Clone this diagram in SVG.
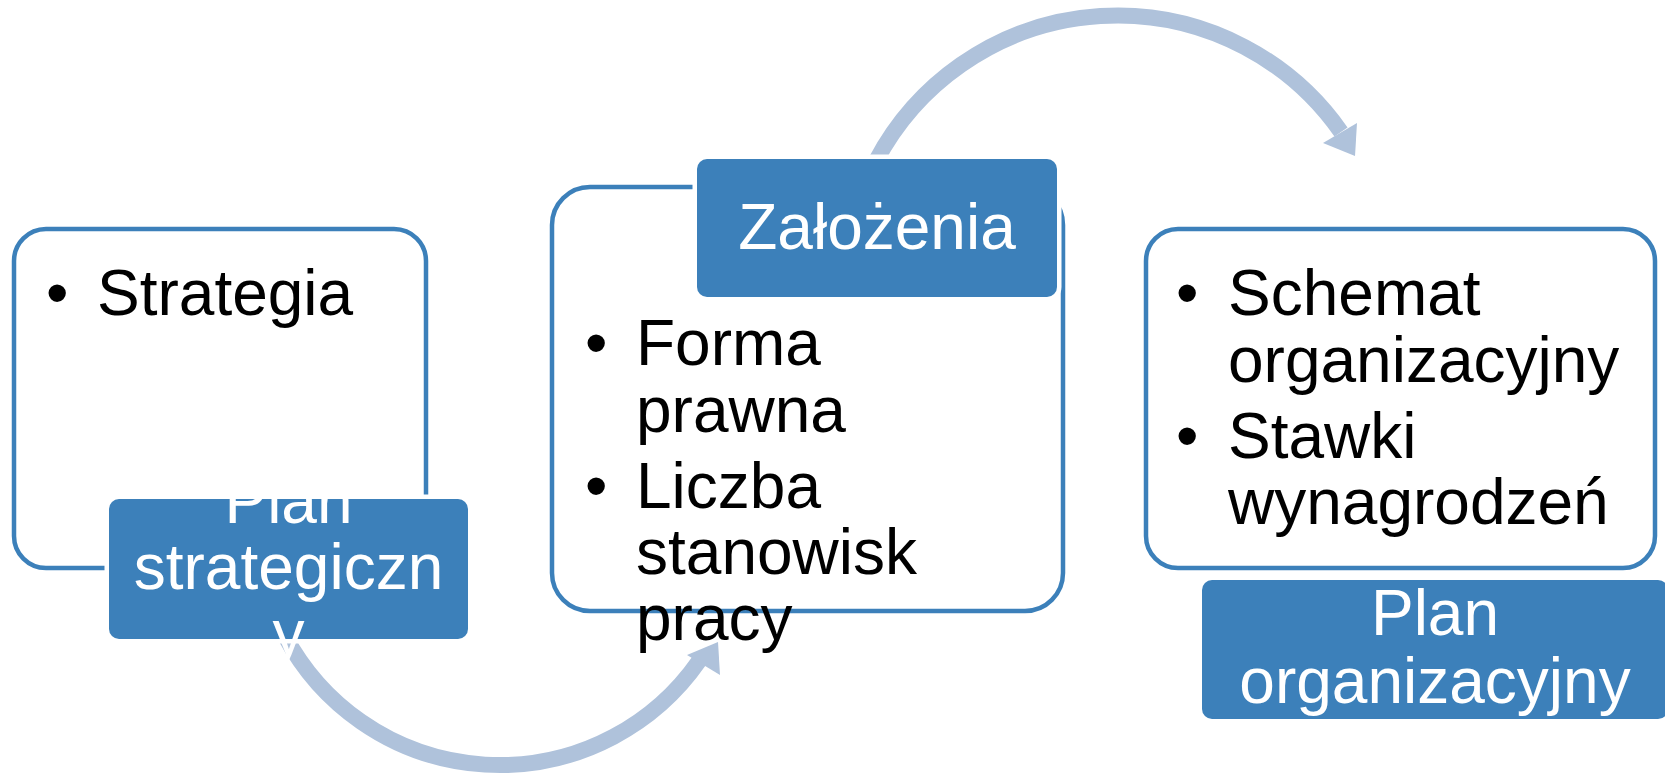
<svg xmlns="http://www.w3.org/2000/svg" width="1665" height="774" viewBox="0 0 1665 774">
<style>
.box{fill:#fff;stroke:#3C80BA;stroke-width:4.5}
.lab{fill:#3C80BA;stroke:#fff;stroke-width:9;paint-order:stroke}
.t{font-family:"Liberation Sans",Arial,sans-serif;font-size:64px;fill:#000}
.w{font-family:"Liberation Sans",Arial,sans-serif;font-size:64px;fill:#fff;text-anchor:middle}
.arc{fill:none;stroke:#AFC2DB;stroke-width:16}
.head{fill:#AFC2DB}
</style>
<rect width="1665" height="774" fill="#fff"/>
<g id="connectors">
<path class="arc" d="M 285 636 A 243 243 0 0 0 699 661"/>
<polygon class="head" points="687,655 718,642 720,675"/>
<path class="arc" d="M 876 161 A 273 273 0 0 1 1341 132"/>
<polygon class="head" points="1323,143 1357,123 1355,156"/>
</g>
<g id="node1">
<rect class="box" x="14" y="229" width="412" height="339" rx="32"/>
<text class="t" x="46" y="315">•</text>
<text class="t" x="97" y="315">Strategia</text>
<rect class="lab" x="109" y="499" width="359" height="140" rx="10"/>
<text class="w" x="288.5" y="523">Plan</text>
<text class="w" x="288.5" y="589">strategiczn</text>
<text class="w" x="288.5" y="655">y</text>
</g>
<g id="node2">
<rect class="box" x="552" y="187" width="511" height="424" rx="38"/>
<rect class="lab" x="697" y="159" width="360" height="138" rx="10"/>
<text class="w" x="877" y="249">Założenia</text>
<text class="t" x="585" y="365">•</text>
<text class="t" x="636" y="365">Forma</text>
<text class="t" x="636" y="432">prawna</text>
<text class="t" x="585" y="508">•</text>
<text class="t" x="636" y="508">Liczba</text>
<text class="t" x="636" y="574">stanowisk</text>
<text class="t" x="636" y="640">pracy</text>
</g>
<g id="node3">
<rect class="box" x="1146" y="229" width="509" height="339" rx="32"/>
<text class="t" x="1176" y="315">•</text>
<text class="t" x="1228" y="315">Schemat</text>
<text class="t" x="1228" y="382">organizacyjny</text>
<text class="t" x="1176" y="458">•</text>
<text class="t" x="1228" y="458">Stawki</text>
<text class="t" x="1228" y="524">wynagrodzeń</text>
<rect class="lab" x="1202" y="580" width="466" height="139" rx="10"/>
<text class="w" x="1435" y="635">Plan</text>
<text class="w" x="1435" y="703">organizacyjny</text>
</g>
</svg>
